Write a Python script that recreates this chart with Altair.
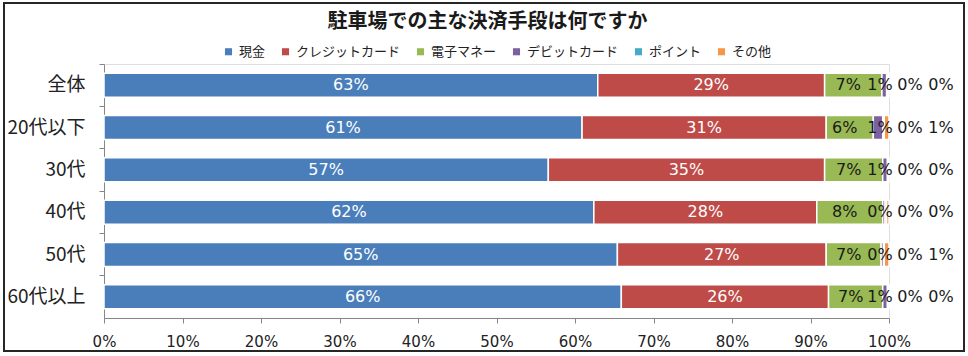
import altair as alt
import pandas as pd

cats = ["全体", "20代以下", "30代", "40代", "50代", "60代以上"]
series = ["現金", "クレジットカード", "電子マネー", "デビットカード", "ポイント", "その他"]
colors = ["#4A7EBB", "#BE4B48", "#98B954", "#7D60A0", "#46AAC5", "#F79646"]

cash = [62.9, 60.9, 56.6, 62.4, 65.4, 65.9]
credit = [28.9, 31.1, 35.2, 28.4, 26.6, 26.4]
emoney = [7.3, 6.0, 7.4, 8.4, 7.0, 6.9]
debit = [0.6, 1.2, 0.6, 0.3, 0.3, 0.6]
point = [0.15, 0.2, 0.1, 0.2, 0.1, 0.2]
other = [0.15, 0.6, 0.1, 0.3, 0.6, 0.0]

x_ticks = [0, 10, 20, 30, 40, 50, 60, 70, 80, 90, 100]

rows = []
for s_i, (s, vals) in enumerate(zip(series, [cash, credit, emoney, debit, point, other])):
    for c, v in zip(cats, vals):
        rows.append({"cat": c, "series": s, "idx": s_i, "value": v})
df = pd.DataFrame(rows)

JP = "Noto Sans CJK JP"
NUM = "DejaVu Sans"

base = (
    alt.Chart(df)
    .transform_stack(stack="value", groupby=["cat"], as_=["x0", "x1"],
                     sort=[alt.SortField("idx", order="ascending")])
    .transform_joinaggregate(total="sum(value)", groupby=["cat"])
    .transform_calculate(mid="(datum.x0 + datum.x1) / 2",
                         label="round(datum.value) + '%'")
)

yenc = alt.Y(
    "cat:N", sort=cats, title=None,
    scale=alt.Scale(paddingInner=0, paddingOuter=0),
    axis=alt.Axis(bandPosition=0, labelFont=JP, labelFontSize=19, labelColor="#222222",
                  domainColor="#868686", tickColor="#868686", tickSize=5,
                  labelPadding=14, grid=False),
)

xscale = alt.Scale(domain=[0, 100], nice=False)

bars = base.mark_bar(size=24, stroke="white", strokeWidth=1.5).encode(
    x=alt.X("x0:Q", scale=xscale, title=None,
            axis=alt.Axis(values=x_ticks, labelExpr="datum.value + '%'", labelFont=NUM,
                          labelFontSize=15, labelColor="#222222", domainColor="#868686",
                          tickColor="#868686", tickSize=5, labelPadding=11, labelFlush=False,
                          labelOverlap=False, grid=False)),
    x2="x1:Q",
    y=yenc,
    color=alt.Color("series:N", scale=alt.Scale(domain=series, range=colors),
                    legend=alt.Legend(orient="none", legendX=118, legendY=-19,
                                      direction="horizontal", title=None, columns=6,
                                      symbolType="square", symbolSize=50,
                                      symbolStrokeWidth=0, labelFont=JP, labelFontSize=13,
                                      labelColor="#222222", columnPadding=13, labelOffset=4)),
)

white_labels = base.transform_filter("datum.idx <= 1").mark_text(
    font=NUM, fontSize=16, color="white", baseline="middle"
).encode(x=alt.X("mid:Q", scale=xscale), y=alt.Y("cat:N", sort=cats), text="label:N")

green_labels = base.transform_filter("datum.idx == 2").mark_text(
    font=NUM, fontSize=16, color="#1a1a1a", baseline="middle", dx=-5
).encode(x=alt.X("mid:Q", scale=xscale), y=alt.Y("cat:N", sort=cats), text="label:N")

small = []
for i, dx in [(3, -9), (4, 21), (5, 52)]:
    small.append(
        base.transform_filter(f"datum.idx == {i}").mark_text(
            font=NUM, fontSize=16, color="#1a1a1a", baseline="middle", dx=dx
        ).encode(x=alt.X("total:Q", scale=xscale), y=alt.Y("cat:N", sort=cats), text="label:N")
    )

frame = alt.Chart(pd.DataFrame({"a": [0]})).mark_rect(
    fillOpacity=0, stroke="#262626", strokeWidth=2
).encode(x=alt.value(-100), x2=alt.value(860), y=alt.value(-61), y2=alt.value(287))

chart = alt.layer(frame, bars, white_labels, green_labels, *small).properties(
    width=785, height=254,
    title=alt.TitleParams("駐車場での主な決済手段は何ですか", font=JP, fontSize=20,
                          fontWeight="bold", color="#1a1a1a", anchor="middle", dx=-9, offset=-30),
    autosize=alt.AutoSizeParams(type="none"),
    padding={"left": 104, "top": 64, "right": 79, "bottom": 38},
).configure_view(stroke=None).configure(background="white")

chart.save("out.html", embed_options={"renderer": "svg", "actions": False})
